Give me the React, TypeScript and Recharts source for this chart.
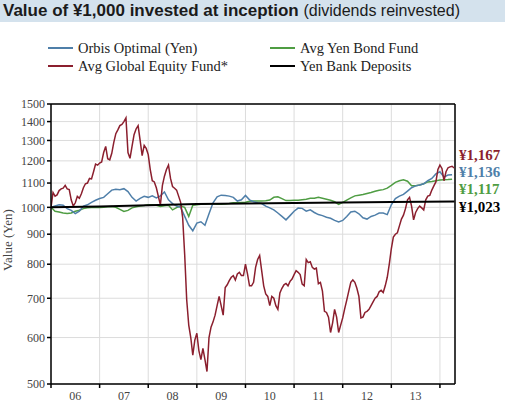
import { CartesianGrid, Line, LineChart, ReferenceLine, XAxis, YAxis } from 'recharts';

// time axis: years, first point is start of 2006
const START = 2006;
const END = 2014.31;
const yearTicks = [2006, 2007, 2008, 2009, 2010, 2011, 2012, 2013, 2014];
const valueTicks = [500, 600, 700, 800, 900, 1000, 1100, 1200, 1300, 1400, 1500];

// Avg Global Equity Fund*, half-monthly
const equityValues = [
  1000, 1060, 1045, 1050, 1068, 1075, 1078, 1090, 1075, 1072, 1029, 1005, 1018, 1044, 1036, 1055,
  1080, 1097, 1100, 1120, 1118, 1150, 1185, 1180, 1190, 1195, 1240, 1270, 1210, 1205, 1236, 1290,
  1335, 1355, 1378, 1385, 1400, 1420, 1240, 1212, 1270, 1330, 1360, 1378, 1300, 1225, 1275, 1260,
  1230, 1160, 1110, 1105, 1080, 1044, 1010, 1090, 1130, 1160, 1180, 1120, 1085, 1078, 1070, 1045,
  1020, 960, 830, 695, 630, 600, 560, 594, 610, 570, 550, 575, 550, 525, 600, 625,
  638, 655, 680, 705, 680, 655, 730, 738, 750, 760, 765, 752, 770, 775, 765, 765,
  800, 770, 735, 735, 745, 790, 815, 828, 780, 735, 712, 705, 680, 705, 700, 680,
  670, 715, 728, 738, 742, 735, 748, 755, 768, 780, 775, 768, 740, 735, 815, 805,
  808, 790, 785, 788, 741, 745, 720, 665, 662, 650, 612, 635, 670, 650, 612, 630,
  648, 672, 695, 720, 745, 752, 745, 728, 705, 648, 650, 662, 665, 670, 680, 690,
  700, 705, 718, 722, 716, 735, 760, 800, 850, 890, 900, 905, 930, 955, 970, 995,
  1030, 1040, 1005, 952, 980, 995, 1005, 998, 990, 1030, 1045, 1048, 1070, 1088, 1105, 1160,
  1180, 1165, 1110, 1150, 1168, 1172, 1175, 1167,
];

// Orbis Optimal (Yen), monthly
const optimalValues = [
  1000, 1005, 1010, 1008, 995, 988, 976, 985, 1005, 1010, 1020, 1028,
  1035, 1040, 1055, 1070, 1074, 1072, 1076, 1064, 1040, 1025, 1036, 1044,
  1040, 1046, 1038, 1046, 1062, 1030, 1015, 1005, 1000, 965, 932, 912,
  940, 945, 932, 975, 1018, 1042, 1049, 1048, 1045, 1040, 1025, 1030,
  1048, 1030, 1022, 1018, 1015, 1005, 998, 990, 978, 965, 952, 968,
  985, 997, 996, 985, 990, 980, 972, 968, 962, 958, 950, 944,
  950, 965, 982, 985, 975, 960, 955, 965, 970, 978, 978, 972,
  1010, 1035, 1045, 1052, 1066, 1080, 1088, 1092, 1097, 1110, 1120, 1140,
  1150, 1126, 1135, 1136,
];

// Avg Yen Bond Fund, monthly
const bondValues = [
  1000, 985, 982, 978, 976, 978, 985, 989, 995, 998, 999, 999,
  999, 1000, 1002, 1003, 1000, 992, 984, 988, 998, 1002, 1005, 1007,
  1010, 1010, 1008, 1003, 1006, 1008, 990, 999, 1005, 1000, 965, 1008,
  1010, 1012, 1012, 1014, 1014, 1012, 1012, 1013, 1015, 1018, 1018, 1019,
  1020, 1024, 1025, 1025, 1025, 1026, 1029, 1040, 1042, 1035, 1027, 1027,
  1028, 1028, 1030, 1032, 1036, 1036, 1040, 1036, 1032, 1028, 1022, 1012,
  1020, 1029, 1038, 1046, 1049, 1052, 1056, 1060, 1065, 1069, 1072, 1078,
  1090, 1103, 1110, 1114, 1108, 1088, 1088, 1092, 1097, 1105, 1107, 1110,
  1113, 1114, 1115, 1117,
];

// Yen Bank Deposits, yearly
const depositYears = [2006, 2007, 2008, 2009, 2010, 2011, 2012, 2013, 2014.3];
const depositValues = [1000, 1003, 1008, 1013, 1015, 1017, 1019, 1021, 1023];

const endLabels = ['¥1,167', '¥1,136', '¥1,117', '¥1,023'];

const RED = '#8b1f2e';
const BLUE = '#4f7fa9';
const GREEN = '#4f9d43';
const BLACK = '#000';

const equityData = equityValues.map((v, i) => ({ t: START + i / 24, v }));
const optimalData = optimalValues.map((v, i) => ({ t: START + i / 12, v }));
const bondData = bondValues.map((v, i) => ({ t: START + i / 12, v }));
const depositData = depositYears.map((t, i) => ({ t, v: depositValues[i] }));

const W = 505;
const H = 403;
const LEFT = 51;
const RIGHT = 50;
const PLOT_W = W - LEFT - RIGHT;
const HALF_YEAR = PLOT_W / (END - START) / 2;
const SERIF = '"Liberation Serif", "DejaVu Serif", serif';

function YearTick({ x, y, payload }: any) {
  const yr = payload.value as number;
  if (yr >= 2014) return null;
  return (
    <text x={x + HALF_YEAR} y={y} dy={10} textAnchor="middle" fontSize={12} fill="#444" stroke="none" fontFamily={SERIF}>
      {String(yr).slice(2)}
    </text>
  );
}

const legendRows = [
  [
    { name: 'Orbis Optimal (Yen)', color: BLUE },
    { name: 'Avg Yen Bond Fund', color: GREEN },
  ],
  [
    { name: 'Avg Global Equity Fund*', color: RED },
    { name: 'Yen Bank Deposits', color: BLACK },
  ],
];

export default function App() {
  const labelColors = [RED, BLUE, GREEN, BLACK];
  const labelTops = [146, 163, 180, 198];
  return (
    <div style={{ position: 'absolute', left: 0, top: 0, width: W, height: H, background: '#fff', overflow: 'hidden' }}>
      <style>{'body{margin:0}'}</style>
      <div
        style={{
          position: 'absolute', left: 0, top: 0, width: W, height: 22, background: '#d4e2ed',
          fontFamily: '"Liberation Sans", Arial, sans-serif', color: '#1b1b1b', whiteSpace: 'nowrap',
        }}
      >
        <span style={{ position: 'absolute', left: 3, top: 1, fontSize: 17, fontWeight: 700, lineHeight: '20px' }}>
          Value of ¥1,000 invested at inception{' '}
          <span style={{ fontWeight: 400, fontSize: 16 }}>(dividends reinvested)</span>
        </span>
      </div>

      {legendRows.map((row, r) =>
        row.map((item, c) => (
          <div
            key={item.name}
            style={{
              position: 'absolute', left: c === 0 ? 48 : 270, top: 39 + r * 18, height: 18,
              display: 'flex', alignItems: 'center', fontFamily: SERIF, fontSize: 14.5, color: '#222', whiteSpace: 'nowrap',
            }}
          >
            <span style={{ display: 'inline-block', width: 25, height: 2, background: item.color, marginRight: 5 }} />
            <span style={{ fontFamily: SERIF }}>{item.name}</span>
          </div>
        ))
      )}

      <div
        style={{
          position: 'absolute', left: 8, top: 240, transform: 'translate(-50%, -50%) rotate(-90deg)',
          fontFamily: SERIF, fontSize: 13, color: '#444', whiteSpace: 'nowrap',
        }}
      >
        Value (Yen)
      </div>

      {endLabels.map((txt, i) => (
        <div
          key={txt}
          style={{
            position: 'absolute', left: 459, top: labelTops[i], fontFamily: SERIF, fontSize: 15,
            fontWeight: 700, color: labelColors[i], whiteSpace: 'nowrap', lineHeight: '18px',
          }}
        >
          {txt}
        </div>
      ))}

      <div style={{ position: 'absolute', left: 0, top: 0 }}>
        <LineChart width={W} height={H} margin={{ top: 104, right: RIGHT, bottom: 0, left: 0 }}>
          <CartesianGrid stroke="#dcdcdc" strokeWidth={1} />
          <XAxis
            type="number"
            dataKey="t"
            domain={[START, END]}
            ticks={yearTicks}
            interval={0}
            allowDataOverflow
            height={19}
            tickSize={4}
            tick={<YearTick />}
            axisLine={{ stroke: '#000', strokeWidth: 1.5 }}
            tickLine={{ stroke: '#000', strokeWidth: 1.5 }}
          />
          <YAxis
            type="number"
            scale="log"
            domain={[500, 1500]}
            ticks={valueTicks}
            interval={0}
            allowDataOverflow
            width={LEFT}
            tickSize={4}
            tick={{ fontSize: 12, fill: '#444', fontFamily: SERIF }}
            axisLine={{ stroke: '#000', strokeWidth: 1.5 }}
            tickLine={{ stroke: '#000', strokeWidth: 1.5 }}
          />
          <ReferenceLine y={1500} stroke="#000" strokeWidth={1.5} />
          <ReferenceLine x={END} stroke="#000" strokeWidth={1.5} />
          <Line data={bondData} dataKey="v" stroke={GREEN} strokeWidth={1.5} dot={false} isAnimationActive={false} />
          <Line data={optimalData} dataKey="v" stroke={BLUE} strokeWidth={1.5} dot={false} isAnimationActive={false} />
          <Line data={equityData} dataKey="v" stroke={RED} strokeWidth={1.5} dot={false} isAnimationActive={false} />
          <Line data={depositData} dataKey="v" stroke={BLACK} strokeWidth={2} dot={false} isAnimationActive={false} />
        </LineChart>
      </div>
    </div>
  );
}
